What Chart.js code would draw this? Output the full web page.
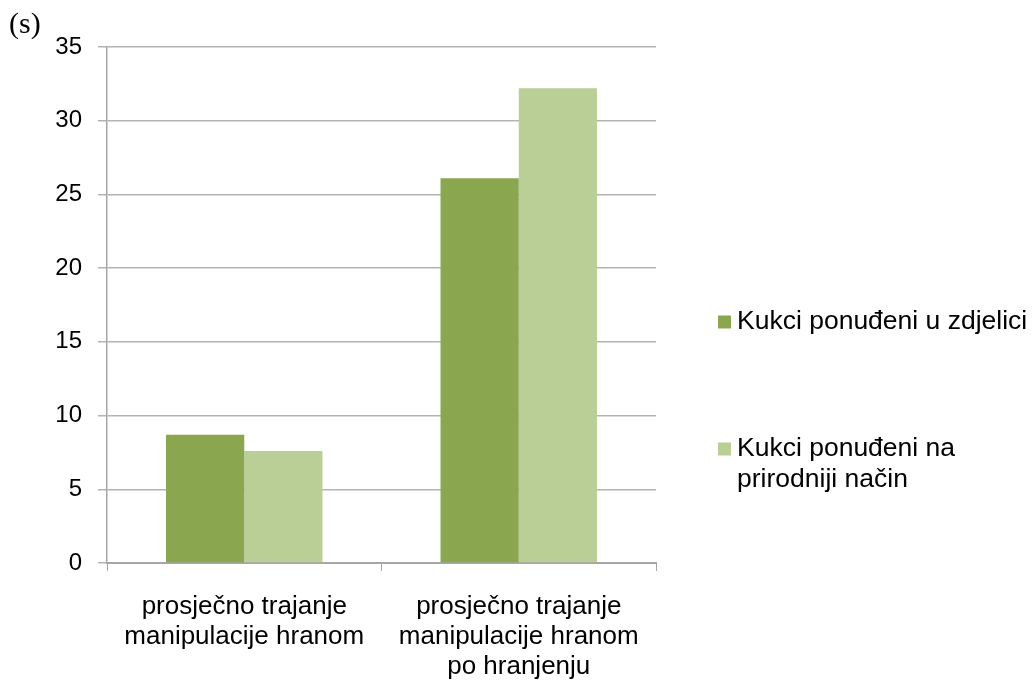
<!DOCTYPE html>
<html>
<head>
<meta charset="utf-8">
<script src="https://cdn.jsdelivr.net/npm/chart.js@4.4.1/dist/chart.umd.min.js"></script>
<style>
  html, body { margin: 0; padding: 0; background: #ffffff; }
  #wrap { width: 1033px; height: 680px; position: relative; }
</style>
</head>
<body>
<div id="wrap"><canvas id="c" width="1033" height="680"></canvas></div>
<script>
// Categories (multi-line axis labels)
const categories = [
  ['prosječno trajanje', 'manipulacije hranom'],
  ['prosječno trajanje', 'manipulacije hranom', 'po hranjenju']
];
// Series names, split into legend lines
const seriesNames = [
  ['Kukci ponuđeni u zdjelici'],
  ['Kukci ponuđeni na', 'prirodniji način']
];
// Durations in seconds
const bowlValues = [8.7, 26.1];
const naturalValues = [7.6, 32.2];
const seriesColors = ['#8aa64f', '#bacf96'];
// Value axis
const yMin = 0, yMax = 35, yStep = 5;
const unitLabel = '(s)';

const sideLegend = {
  id: 'sideLegend',
  afterDraw(chart) {
    const ctx = chart.ctx;
    ctx.save();
    // unit label in the top-left corner
    ctx.fillStyle = '#000000';
    ctx.font = '30px "Liberation Serif", serif';
    ctx.textAlign = 'left';
    ctx.textBaseline = 'middle';
    ctx.fillText(unitLabel, 9, 25);

    // legend entries
    const itemTops = [322, 449];
    const lineH = 31;
    ctx.font = '26.5px "Liberation Sans", Arial, sans-serif';
    chart.data.datasets.forEach((ds, i) => {
      const cy = itemTops[i];
      ctx.fillStyle = ds.backgroundColor;
      ctx.fillRect(718, cy - 6.5, 13, 13);
      ctx.fillStyle = '#000000';
      seriesNames[i].forEach((line, k) => {
        ctx.fillText(line, 737, cy + k * lineH);
      });
    });
    ctx.restore();
  }
};

new Chart(document.getElementById('c'), {
  type: 'bar',
  data: {
    labels: categories,
    datasets: [
      { label: seriesNames[0].join(' '), data: bowlValues, backgroundColor: seriesColors[0] },
      { label: seriesNames[1].join(' '), data: naturalValues, backgroundColor: seriesColors[1] }
    ]
  },
  options: {
    responsive: false,
    animation: false,
    layout: { padding: { left: 0, right: 377, top: 47, bottom: 0 } },
    datasets: { bar: { categoryPercentage: 0.57, barPercentage: 1.0 } },
    plugins: {
      legend: { display: false },
      tooltip: { enabled: false }
    },
    scales: {
      x: {
        grid: {
          offset: true,
          drawOnChartArea: false,
          drawTicks: true,
          tickLength: 8,
          color: '#a6a6a6',
          lineWidth: 1
        },
        border: { color: '#a6a6a6', width: 2 },
        ticks: {
          color: '#000000',
          padding: 21,
          maxRotation: 0,
          font: { family: '"Liberation Sans", Arial, sans-serif', size: 26, lineHeight: 1.154 }
        },
        afterFit(scale) { scale.height = 117; }
      },
      y: {
        min: yMin,
        max: yMax,
        grid: {
          color: '#b3b3b3',
          lineWidth: 1.5,
          drawTicks: true,
          tickLength: 9
        },
        border: { color: '#a6a6a6', width: 1.5 },
        ticks: {
          stepSize: yStep,
          color: '#000000',
          padding: 16,
          font: { family: '"Liberation Sans", Arial, sans-serif', size: 24 }
        },
        afterFit(scale) { scale.width = 107; }
      }
    }
  },
  plugins: [sideLegend]
});
</script>
</body>
</html>
